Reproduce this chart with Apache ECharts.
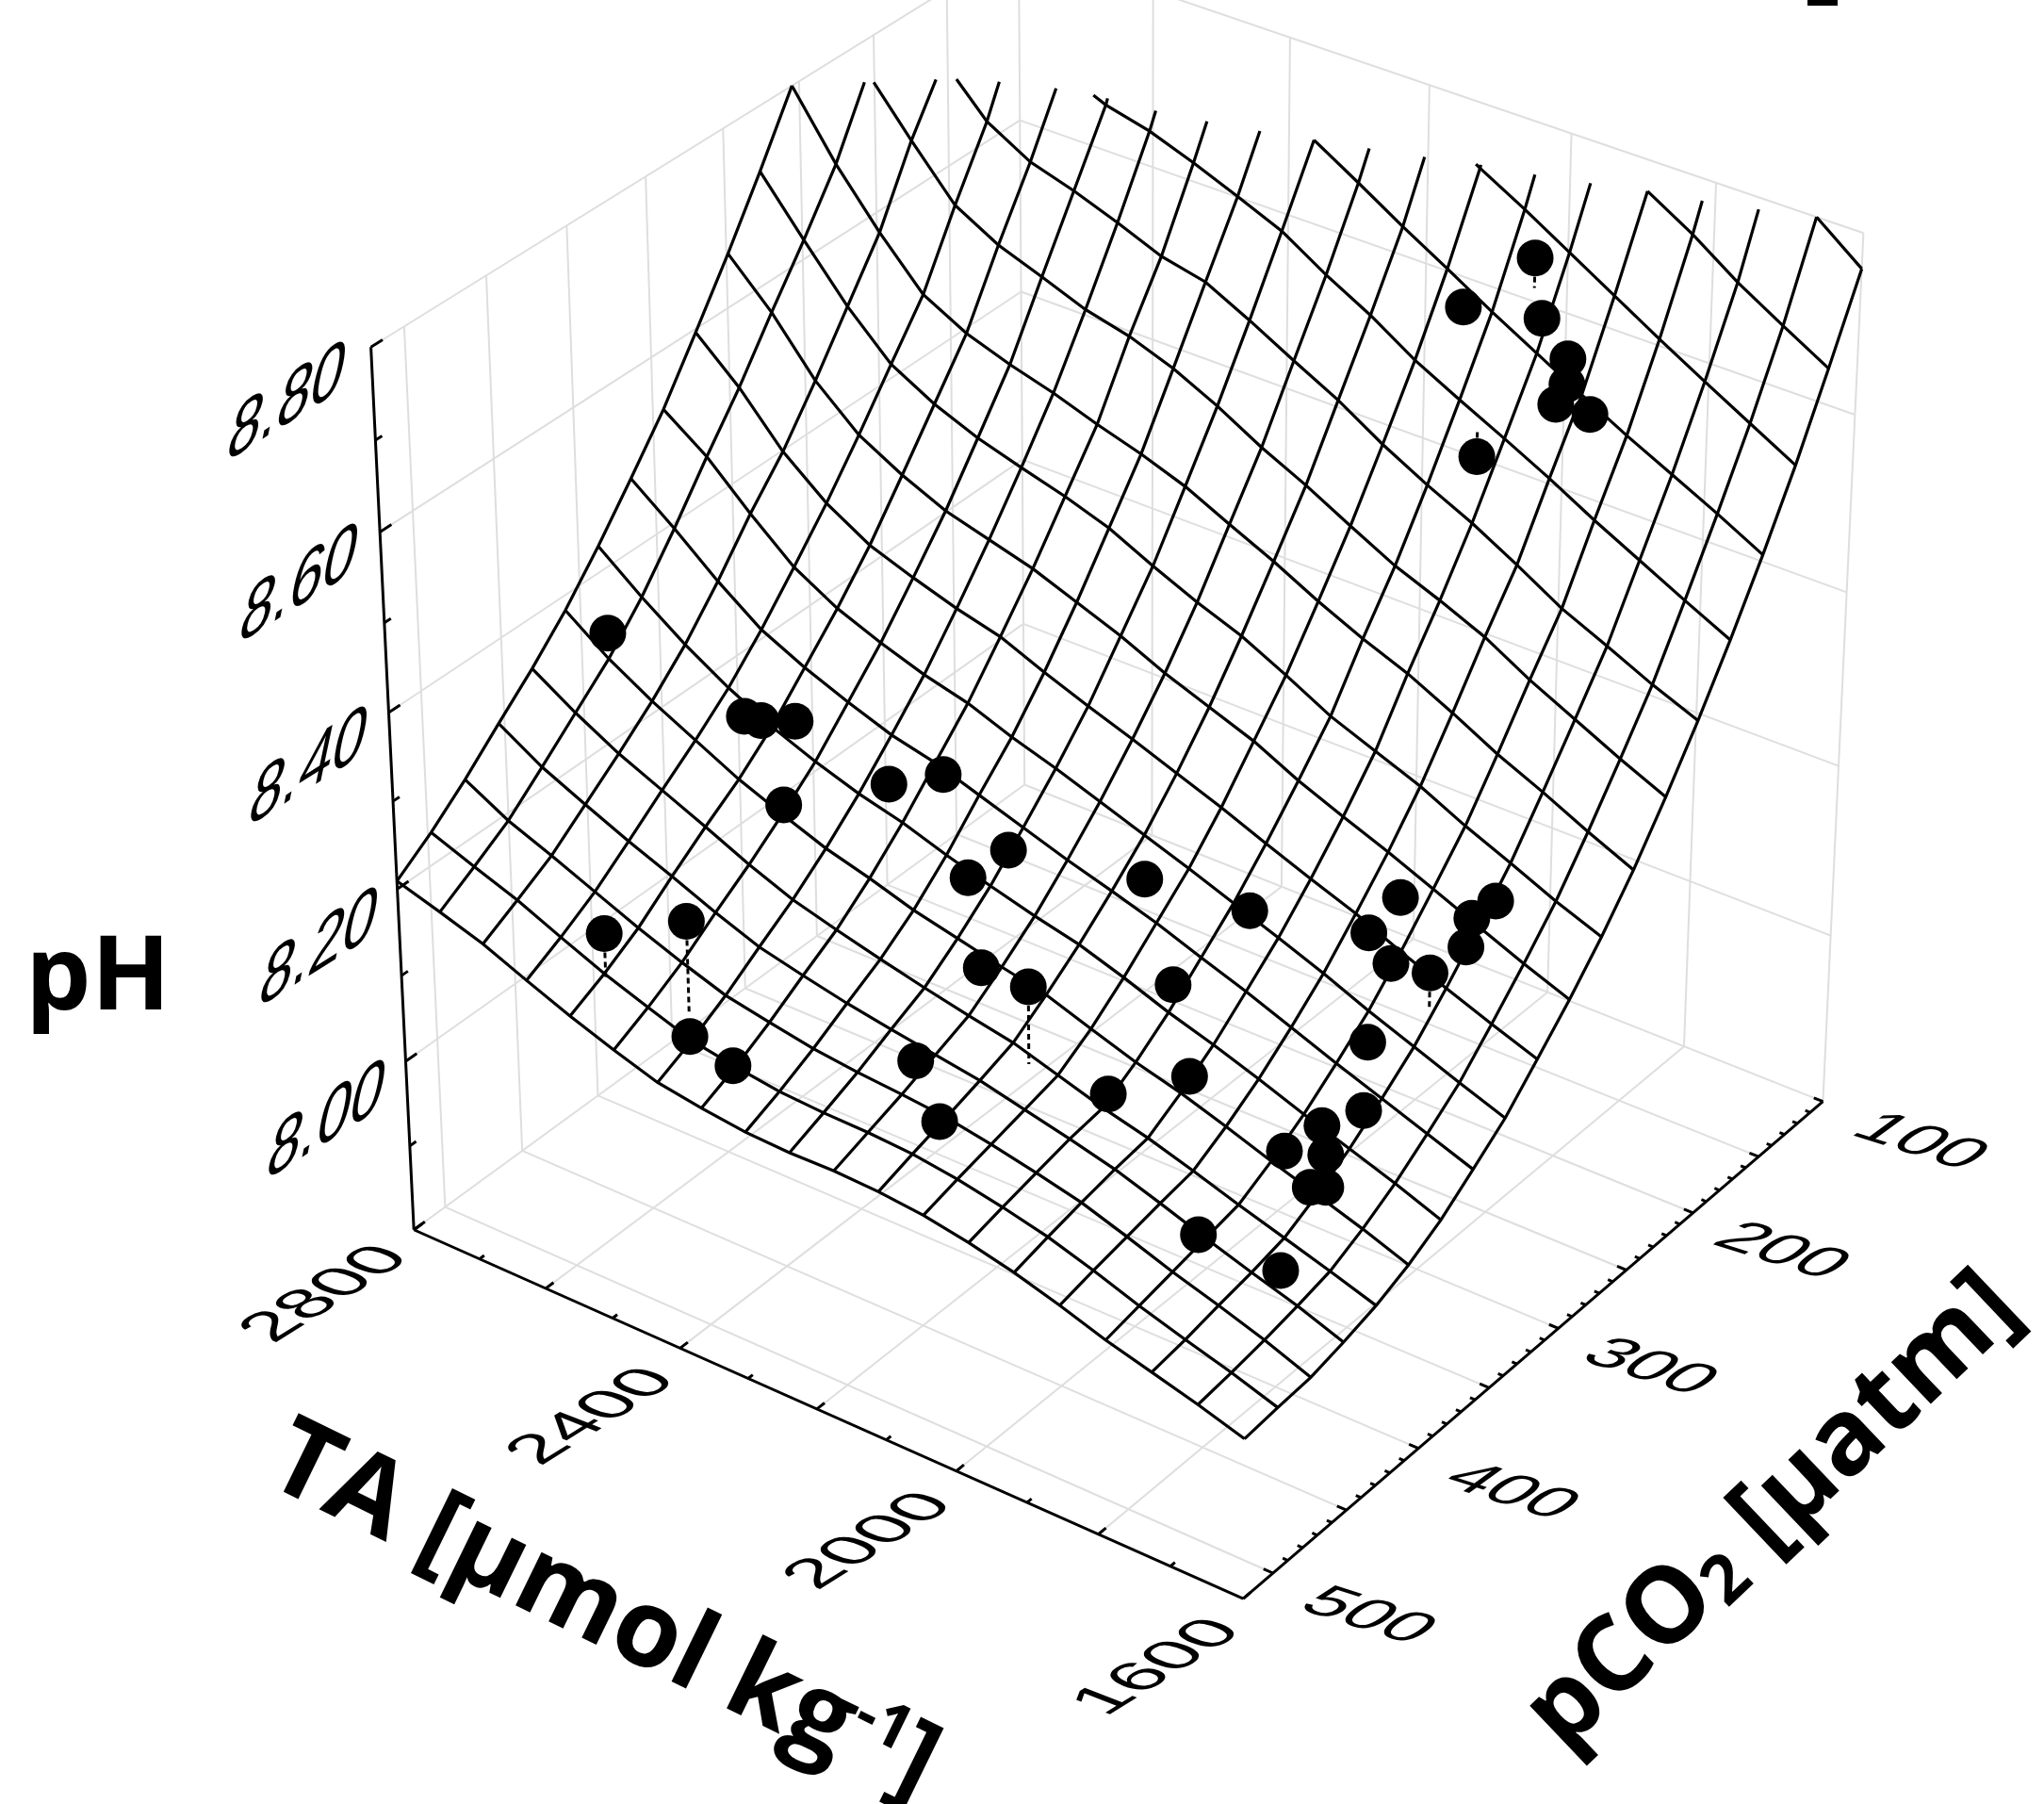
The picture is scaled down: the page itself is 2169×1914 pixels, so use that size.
<!DOCTYPE html>
<html><head><meta charset="utf-8"><style>html,body{margin:0;background:#fff}#c{width:2169px;height:1914px}</style>
<script src="https://cdn.jsdelivr.net/npm/echarts@6/dist/echarts.min.js"></script></head><body><div id="c"></div>
<script>
// ---- data ----
const taGrid=[2800,2736.8,2673.7,2610.5,2547.4,2484.2,2421.1,2357.9,2294.7,2231.6,2168.4,2105.3,2042.1,1978.9,1915.8,1852.6,1789.5,1726.3,1663.2,1600];
const pGrid=[520,497.9,475.8,453.7,431.6,409.5,387.4,365.3,343.2,321.1,298.9,276.8,254.7,232.6,210.5,188.4,166.3,144.2,122.1,100];
const phRows=[
[8.209,8.194,8.178,8.157,8.137,8.119,8.103,8.095,8.089,8.087,8.088,8.086,8.081,8.072,8.060,8.045,8.028,8.014,8.000,7.984],
[8.237,8.218,8.200,8.178,8.157,8.139,8.122,8.113,8.106,8.103,8.102,8.099,8.092,8.082,8.070,8.054,8.036,8.020,8.005,7.988],
[8.270,8.243,8.223,8.202,8.181,8.162,8.145,8.135,8.126,8.120,8.116,8.111,8.102,8.091,8.079,8.062,8.044,8.028,8.011,7.991],
[8.307,8.277,8.254,8.232,8.212,8.191,8.172,8.160,8.149,8.140,8.132,8.124,8.112,8.100,8.087,8.070,8.052,8.035,8.019,8.000],
[8.343,8.312,8.285,8.263,8.241,8.218,8.198,8.184,8.171,8.159,8.148,8.138,8.122,8.106,8.093,8.077,8.060,8.044,8.028,8.011],
[8.383,8.347,8.318,8.293,8.268,8.248,8.229,8.215,8.199,8.187,8.175,8.164,8.146,8.129,8.115,8.098,8.080,8.063,8.046,8.027],
[8.430,8.391,8.356,8.326,8.301,8.281,8.264,8.251,8.234,8.219,8.205,8.193,8.176,8.157,8.141,8.123,8.104,8.086,8.068,8.048],
[8.481,8.443,8.402,8.366,8.342,8.322,8.304,8.292,8.275,8.258,8.241,8.226,8.210,8.191,8.173,8.153,8.133,8.114,8.095,8.076],
[8.534,8.499,8.453,8.411,8.383,8.363,8.346,8.333,8.314,8.298,8.280,8.262,8.244,8.225,8.206,8.186,8.164,8.144,8.124,8.105],
[8.596,8.552,8.498,8.458,8.429,8.411,8.395,8.382,8.361,8.342,8.324,8.305,8.286,8.265,8.245,8.226,8.203,8.182,8.162,8.143],
[8.660,8.612,8.553,8.510,8.483,8.461,8.447,8.433,8.414,8.395,8.372,8.353,8.334,8.309,8.288,8.268,8.246,8.224,8.202,8.182],
[8.728,8.669,8.612,8.565,8.538,8.518,8.503,8.489,8.472,8.448,8.426,8.407,8.382,8.355,8.335,8.315,8.290,8.268,8.245,8.225],
[8.800,8.730,8.671,8.619,8.593,8.576,8.562,8.545,8.530,8.512,8.488,8.465,8.439,8.416,8.396,8.371,8.344,8.321,8.296,8.273],
[8.885,8.808,8.750,8.695,8.668,8.650,8.631,8.619,8.601,8.577,8.549,8.525,8.498,8.472,8.452,8.430,8.401,8.376,8.351,8.328],
[8.980,8.885,8.815,8.765,8.737,8.722,8.704,8.684,8.673,8.648,8.621,8.595,8.564,8.537,8.513,8.485,8.455,8.432,8.408,8.387],
[9.080,8.990,8.925,8.855,8.815,8.794,8.782,8.764,8.744,8.723,8.692,8.665,8.633,8.607,8.582,8.556,8.528,8.502,8.476,8.451],
[9.185,9.090,9.030,8.980,8.940,8.905,8.875,8.850,8.825,8.800,8.770,8.739,8.710,8.680,8.652,8.624,8.597,8.572,8.547,8.520],
[9.300,9.200,9.140,9.090,9.050,9.010,8.980,8.950,8.920,8.890,8.860,8.830,8.797,8.769,8.739,8.709,8.679,8.650,8.622,8.594],
[9.420,9.320,9.260,9.210,9.170,9.130,9.090,9.060,9.030,9.000,8.970,8.940,8.905,8.870,8.835,8.800,8.770,8.735,8.705,8.676],
[9.550,9.450,9.390,9.340,9.300,9.260,9.220,9.190,9.160,9.130,9.100,9.060,9.020,8.985,8.950,8.910,8.875,8.840,8.800,8.761]];
const sampleTA=[2756,2585,2566,2532,2494,2401,2349,2265,2239,2546,2449,2430,2366,2194,2080,2189,2115,1983,1918,1991,2083,1958,1817,1830,1793,1731,1722,1737,1728,1772,1736,1766,1784,1744,1737,1723,1799,1704,1943,2013,1924,1882,1874,1878,1838,1950];
const samplePCO2=[401.6,388.7,386.2,379.0,404.2,376.6,364.2,386.9,371.8,497.7,487.2,495.2,496.0,411.3,433.1,457.2,475.7,426.0,402.5,378.5,353.6,342.3,307.9,323.2,326.2,330.4,289.2,298.2,306.7,352.4,372.9,386.6,403.3,394.8,408.8,405.1,454.0,445.0,154.8,169.3,158.8,161.4,165.9,171.6,167.7,190.2];
const samplePH=[8.361,8.303,8.301,8.302,8.249,8.268,8.280,8.217,8.238,8.203,8.235,8.120,8.109,8.168,8.212,8.123,8.103,8.113,8.124,8.173,8.232,8.222,8.239,8.214,8.195,8.210,8.242,8.229,8.210,8.146,8.107,8.098,8.085,8.083,8.067,8.067,8.053,8.033,8.737,8.679,8.680,8.650,8.629,8.612,8.608,8.554];
const dropSample=[9,10,14,25,38,45];
const dropSurfacePH=[8.150,8.132,8.124,8.167,8.704,8.583];
const taTicks=[2800,2700,2600,2500,2400,2300,2200,2100,2000,1900,1800,1700,1600];
const taLabelled=['2800','2400','2000','1600'];
const pMajor=[500,450,400,350,300,250,200,150,100];
const pLabelled=['100','200','300','400','500'];
const phTicks=[7.8,7.9,8.0,8.1,8.2,8.3,8.4,8.5,8.6,8.7,8.8];
const phLabelled=['8.80','8.60','8.40','8.20','8.00'];

// ---- view: the 3-D box mapped on the page ----
const taRange=[2800,1600],pRange=[520,100],phRange=[7.8,8.8];
const anchors=[[0,0,0,440,1306],[1,0,0,1318,1696],[1,1,0,1935,1168],[0,1,0,1087,832],[0,0,1,394,367],[1,1,1,1978,248],[0,1,1,1080,-58]];
function solveCam(){const A=[],b=[];anchors.forEach(([u,v,w,x,y])=>{x/=1000;y/=1000;A.push([u,v,w,1,0,0,0,0,-x*u,-x*v,-x*w]);b.push(x);A.push([0,0,0,0,u,v,w,1,-y*u,-y*v,-y*w]);b.push(y);});
 const n=11,M=[];for(let r=0;r<n;r++){M[r]=[];for(let c=0;c<n;c++){let s=0;A.forEach(a=>s+=a[r]*a[c]);M[r][c]=s;}let s=0;A.forEach((a,k)=>s+=a[r]*b[k]);M[r][n]=s+0;M[r][r]+=1e-9;}
 for(let i=0;i<n;i++){let p=i;for(let r=i+1;r<n;r++)if(Math.abs(M[r][i])>Math.abs(M[p][i]))p=r;[M[i],M[p]]=[M[p],M[i]];for(let r=0;r<n;r++)if(r!==i){const f=M[r][i]/M[i][i];for(let c=i;c<=n;c++)M[r][c]-=f*M[i][c];}}
 return M.map((r,i)=>r[n]/r[i]);}
const cam=solveCam();
function project(t,p,h){const u=(taRange[0]-t)/(taRange[0]-taRange[1]),v=(pRange[0]-p)/(pRange[0]-pRange[1]),w=(h-phRange[0])/(phRange[1]-phRange[0]);
 const d=cam[8]*u+cam[9]*v+cam[10]*w+1;return [1000*(cam[0]*u+cam[1]*v+cam[2]*w+cam[3])/d,1000*(cam[4]*u+cam[5]*v+cam[6]*w+cam[7])/d];}

// surface wires, cut at the top of the box
function clipLine(seq){const top=phRange[1];let cur=[];const out=[];const cross=(r,q)=>{const f=(top-r[2])/(q[2]-r[2]);return [r[0]+f*(q[0]-r[0]),r[1]+f*(q[1]-r[1]),top];};
 for(let k=0;k<seq.length;k++){const q=seq[k];if(q[2]<=top){if(k&&seq[k-1][2]>top)cur.push(cross(seq[k-1],q));cur.push(q);}else if(cur.length){cur.push(cross(seq[k-1],q));out.push(cur);cur=[];}}
 if(cur.length)out.push(cur);return out;}
const mesh=[];
pGrid.forEach((p,j)=>clipLine(taGrid.map((t,i)=>[t,p,phRows[j][i]])).forEach(l=>mesh.push(l)));
taGrid.forEach((t,i)=>clipLine(pGrid.map((p,j)=>[t,p,phRows[j][i]])).forEach(l=>mesh.push(l)));

// box walls and floor
const gray=[];
[2600,2400,2200,2000,1800].forEach(t=>gray.push([[t,520,7.8],[t,100,7.8]]));
pMajor.slice(0,-1).forEach(p=>gray.push([[2800,p,7.8],[1600,p,7.8]]));
pMajor.forEach(p=>gray.push([[2800,p,7.8],[2800,p,8.8]]));
[8,8.2,8.4,8.6,8.8].forEach(h=>{gray.push([[2800,520,h],[2800,100,h]]);gray.push([[2800,100,h],[1600,100,h]]);});
[2600,2400,2200,2000,1800,1600].forEach(t=>gray.push([[t,100,7.8],[t,100,8.8]]));
gray.push([[2800,520,7.8],[2800,100,7.8]],[[2800,100,7.8],[1600,100,7.8]]);
// axes and ticks
const black=[[[2800,520,7.8],[1600,520,7.8]],[[1600,520,7.8],[1600,100,7.8]],[[2800,520,7.8],[2800,520,8.8]]];
taTicks.forEach(t=>black.push([[t,520,7.8],[t,520-(t%200===0?5:3),7.8]]));
for(let p=500;p>=100;p-=10)black.push([[1600,p,7.8],[1600+(p%50===0?13:7),p,7.8]]);
phTicks.forEach((h,k)=>black.push([[2800,520,h],[2800,520-(k%2===0?7:4),h]]));

// labels
const zPos=[[304,429],[317,622],[327,816],[338,1008],[346,1191]];
const taPos=[[346,1373],[629,1503],[923,1635],[1229,1769]];
const pPos=[[2037,1212],[1890,1328],[1750,1451],[1603,1583],[1451,1715]];
function skewText(txt,pos,adv,up,f){const sx=1/(.556*f),sy=1/(.716*f);const m00=adv[0]*sx,m10=adv[1]*sx,m01=-up[0]*sy,m11=-up[1]*sy;const E=(m00+m11)/2,F=(m00-m11)/2,G=(m10+m01)/2,H=(m10-m01)/2,Q=Math.hypot(E,H),R=Math.hypot(F,G),a1=Math.atan2(G,F),a2=Math.atan2(H,E),th=(a2-a1)/2,ph=(a2+a1)/2;
 return {type:'group',x:pos[0],y:pos[1],rotation:-ph,scaleX:Q+R,scaleY:Q-R,children:[{type:'text',rotation:-th,style:{text:txt,x:0,y:0,fontSize:f,fontFamily:'Liberation Sans',fill:'#000',align:'center',verticalAlign:'middle'}}]};}
const texts=[];
phLabelled.forEach((l,k)=>texts.push(skewText(l,zPos[k],[35,-22],[13,-62],87)));
taLabelled.forEach((l,k)=>texts.push(skewText(l,taPos[k],[37,-23],[-46,-18],68)));
pLabelled.forEach((l,k)=>texts.push(skewText(l,pPos[k],[41,13],[37,-27],64)));
const titleFont={fontFamily:'Open Sans',fontWeight:700,fill:'#000',align:'center',verticalAlign:'middle'};
texts.push({type:'text',x:104,y:1040,style:Object.assign({text:'pH',fontSize:110},titleFont)});
texts.push({type:'text',x:640,y:1712,rotation:-0.454,style:Object.assign({text:'TA [µmol kg{s|-1}]',fontSize:115,rich:{s:{fontSize:66,fontFamily:'Open Sans',fontWeight:700,verticalAlign:'top'}}},titleFont)});
texts.push({type:'text',x:1882,y:1604,rotation:0.76,style:Object.assign({text:'pCO{s|2} [µatm]',fontSize:112,rich:{s:{fontSize:72,fontFamily:'Open Sans',fontWeight:700,verticalAlign:'bottom'}}},titleFont)});

const lineSeries=(lines,stroke,w,z)=>({type:'custom',coordinateSystem:'cartesian2d',clip:false,silent:true,z,data:lines.map((_,k)=>[k]),renderItem:(pr,api)=>({type:'polyline',shape:{points:lines[api.value(0)].map(q=>api.coord(project(q[0],q[1],q[2])))},style:{stroke,lineWidth:w,fill:null}})});
const chart=echarts.init(document.getElementById('c'),null,{renderer:'canvas'});
chart.setOption({animation:false,backgroundColor:'#fff',
 grid:{left:0,right:0,top:0,bottom:0},
 xAxis:{type:'value',min:0,max:2169,show:false},yAxis:{type:'value',min:0,max:1914,inverse:true,show:false},
 graphic:[{type:'rect',shape:{x:1918,y:0,width:32,height:6},style:{fill:'#000'}}],
 series:[lineSeries(gray,'#dedede',2,1),lineSeries(black,'#000',3,2),lineSeries(mesh,'#000',3.2,3),
 {type:'custom',coordinateSystem:'cartesian2d',clip:false,silent:true,z:4,data:dropSample.map((_,k)=>[k]),renderItem:(pr,api)=>{const k=api.value(0),n=dropSample[k];const a=api.coord(project(sampleTA[n],samplePCO2[n],samplePH[n])),b=api.coord(project(sampleTA[n],samplePCO2[n],dropSurfacePH[k]));return {type:'line',shape:{x1:a[0],y1:a[1],x2:b[0],y2:b[1]},style:{stroke:'#000',lineWidth:3,lineDash:[6,4]}};}},
 {type:'scatter',z:5,silent:true,symbol:'circle',symbolSize:39,itemStyle:{color:'#000',opacity:1},data:sampleTA.map((t,k)=>project(t,samplePCO2[k],samplePH[k]))},
 {type:'custom',coordinateSystem:'cartesian2d',clip:false,silent:true,z:6,data:texts.map((_,k)=>[k]),renderItem:(pr,api)=>texts[api.value(0)]}
 ]});
</script></body></html>
